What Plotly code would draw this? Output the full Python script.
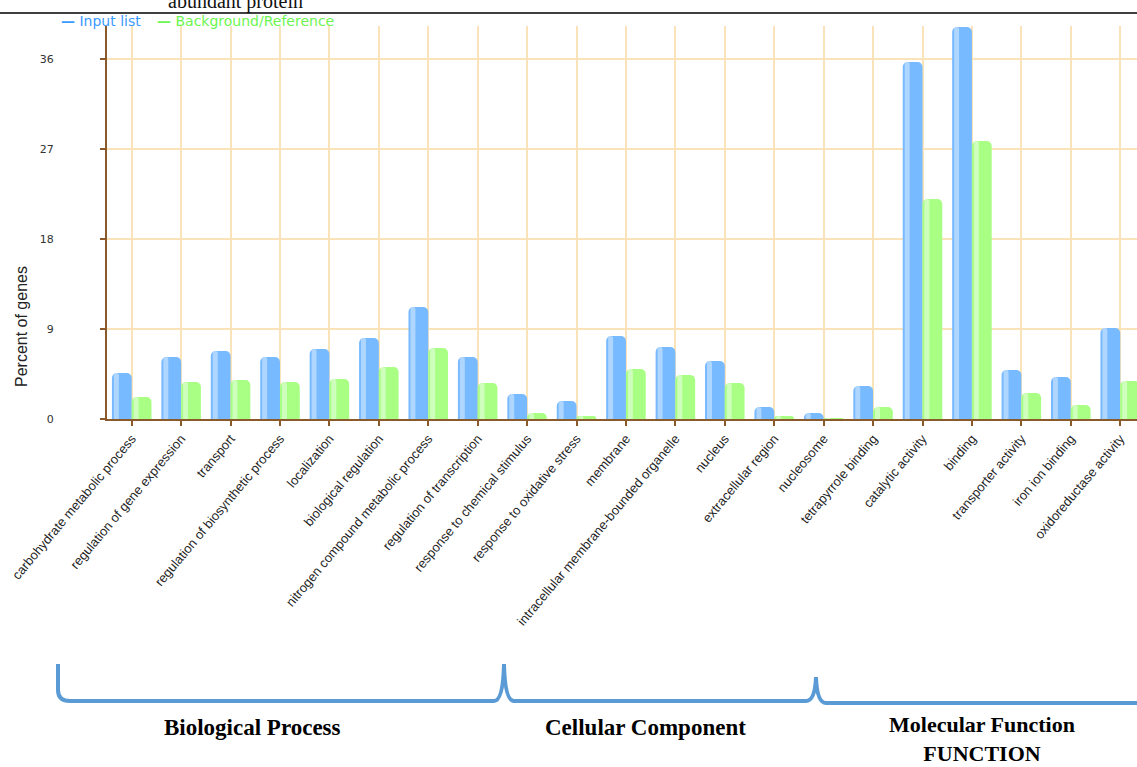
import plotly.graph_objects as go

# GO terms, grouped: biological process (0-9), cellular component (10-15), molecular function (16-20)
categories = [
    "carbohydrate metabolic process",
    "regulation of gene expression",
    "transport",
    "regulation of biosynthetic process",
    "localization",
    "biological regulation",
    "nitrogen compound metabolic process",
    "regulation of transcription",
    "response to chemical stimulus",
    "response to oxidative stress",
    "membrane",
    "intracellular membrane-bounded organelle",
    "nucleus",
    "extracellular region",
    "nucleosome",
    "tetrapyrrole binding",
    "catalytic activity",
    "binding",
    "transporter activity",
    "iron ion binding",
    "oxidoreductase activity",
]

# Percent of genes annotated to each term
input_list = [4.6, 6.2, 6.8, 6.2, 7.0, 8.1, 11.2, 6.2, 2.5, 1.8,
              8.3, 7.2, 5.8, 1.2, 0.6, 3.3, 35.7, 39.2, 4.9, 4.2, 9.1]
background = [2.2, 3.7, 3.9, 3.7, 4.0, 5.2, 7.1, 3.6, 0.6, 0.3,
              5.0, 4.4, 3.6, 0.3, 0.1, 1.2, 22.0, 27.8, 2.6, 1.4, 3.8]

y_ticks = [0, 9, 18, 27, 36]

# Group labels under the brackets
group_labels = ["Biological Process", "Cellular Component", "Molecular Function<br>FUNCTION"]

W, H = 1137, 767
ML, MR, MT, MB = 107, 0, 26, 348
PW, PH = W - ML - MR, H - MT - MB

BLUE = "#78BAFF"
BLUE_HI = "#C2E0FF"
GREEN = "#A8FF84"
GREEN_HI = "#DDFFCF"
BROWN = "#8B5A2B"
GRID = "#FAE3B8"


def px(x):
    return (x - ML) / PW


def py(y):
    return 1 - (y - MT) / PH


fig = go.Figure()
fig.add_trace(go.Bar(x=categories, y=input_list, name="Input list",
                     marker=dict(color=BLUE, line=dict(width=0), cornerradius=5)))
fig.add_trace(go.Bar(x=categories, y=background, name="Background/Reference",
                     marker=dict(color=GREEN, line=dict(width=0), cornerradius=5)))

# glossy highlight stripes on each bar
fig.add_trace(go.Bar(x=categories, y=input_list, width=0.1, offset=-0.36,
                     marker=dict(color=BLUE_HI, line=dict(width=0), cornerradius=3),
                     opacity=0.75, showlegend=False, hoverinfo="skip"))
fig.add_trace(go.Bar(x=categories, y=background, width=0.1, offset=0.04,
                     marker=dict(color=GREEN_HI, line=dict(width=0), cornerradius=3),
                     opacity=0.75, showlegend=False, hoverinfo="skip"))

fig.update_layout(
    width=W, height=H,
    margin=dict(l=ML, r=MR, t=MT, b=MB),
    paper_bgcolor="white", plot_bgcolor="white",
    barmode="group", bargap=0.2, bargroupgap=0,
    showlegend=False,
    font=dict(family="Liberation Sans, Arial", color="#222"),
)

fig.update_xaxes(
    type="category",
    range=[-0.5, 20.34],
    showgrid=True, gridcolor=GRID, gridwidth=1.5,
    showline=True, linecolor=BROWN, linewidth=2,
    ticks="outside", ticklen=5, tickcolor=BROWN, tickwidth=1.5,
    tickangle=-50,
    tickfont=dict(family="Liberation Sans, Arial", size=13, color="#222"),
)
fig.update_yaxes(
    range=[0, 39.3],
    tickvals=y_ticks, ticktext=[str(v) for v in y_ticks],
    showgrid=True, gridcolor=GRID, gridwidth=1.5,
    zeroline=False,
    showline=True, linecolor=BROWN, linewidth=2,
    ticks="outside", ticklen=5, tickcolor=BROWN, tickwidth=1.5,
    ticklabelstandoff=44,
    tickfont=dict(family="DejaVu Sans, Verdana", size=11, color="#333"),
)

serif = "Liberation Serif, Times New Roman"
annotations = [
    # axis title
    dict(text="Percent of genes", x=px(21), y=py(327), xref="paper", yref="paper",
         textangle=-90, showarrow=False, xanchor="center", yanchor="middle",
         font=dict(family="Liberation Sans, Arial", size=16, color="#222")),
    # legend
    dict(text="<b>—</b> Input list", x=px(59), y=py(21), xref="paper", yref="paper",
         showarrow=False, xanchor="left", yanchor="middle",
         font=dict(family="DejaVu Sans, Verdana", size=14, color="#3A9AFF")),
    dict(text="<b>—</b> Background/Reference", x=px(155), y=py(21), xref="paper", yref="paper",
         showarrow=False, xanchor="left", yanchor="middle",
         font=dict(family="DejaVu Sans, Verdana", size=14, color="#6CF550")),
    # caption above
    dict(text="abundant protein", x=px(235), y=py(2), xref="paper", yref="paper",
         showarrow=False, xanchor="center", yanchor="middle",
         font=dict(family=serif, size=20, color="#111")),
    # group labels
    dict(text="<b>%s</b>" % group_labels[0], x=px(252), y=py(727), xref="paper", yref="paper",
         showarrow=False, xanchor="center", yanchor="middle",
         font=dict(family=serif, size=23, color="black")),
    dict(text="<b>%s</b>" % group_labels[1], x=px(645), y=py(727), xref="paper", yref="paper",
         showarrow=False, xanchor="center", yanchor="middle",
         font=dict(family=serif, size=23, color="black")),
    dict(text="<b>%s</b>" % group_labels[2].replace("<br>", "</b><br><b>"),
         x=px(982), y=py(739), xref="paper", yref="paper",
         showarrow=False, xanchor="center", yanchor="middle",
         font=dict(family=serif, size=22, color="black")),
]
fig.update_layout(annotations=annotations)


def path(points):
    """Build an SVG path in paper coordinates from pixel-space commands."""
    out = []
    for cmd, *coords in points:
        pts = []
        for i in range(0, len(coords), 2):
            pts.append("%.5f,%.5f" % (px(coords[i]), py(coords[i + 1])))
        out.append(cmd + " " + " ".join(pts))
    return " ".join(out)


bracket = path([
    ("M", 58, 664),
    ("L", 58, 690),
    ("Q", 58, 701, 70, 701),
    ("L", 494, 701),
    ("Q", 503, 701, 504, 664),
    ("Q", 505, 701, 514, 701),
    ("L", 806, 701),
    ("Q", 815, 701, 816, 677),
    ("Q", 817, 703, 826, 703),
    ("L", 1140, 703),
])

fig.update_layout(shapes=[
    dict(type="path", path=bracket, xref="paper", yref="paper",
         line=dict(color="#5B9BD5", width=4)),
    dict(type="line", x0=px(0), x1=px(1137), y0=py(13), y1=py(13),
         xref="paper", yref="paper", line=dict(color="black", width=1.5)),
])

fig.write_html("out.html")
